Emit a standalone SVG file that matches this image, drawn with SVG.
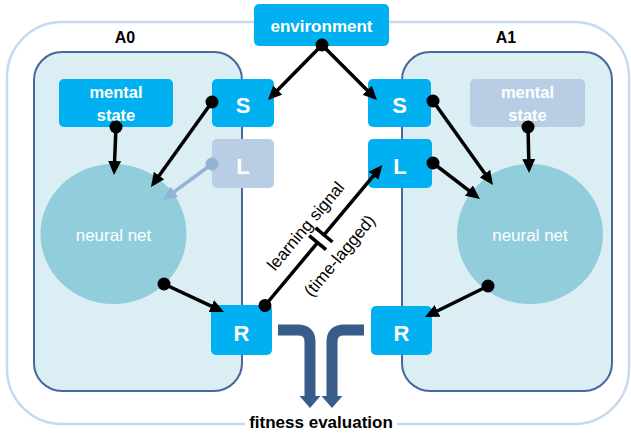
<svg xmlns="http://www.w3.org/2000/svg" width="631" height="433" viewBox="0 0 631 433">
<defs>
<style>
.agent{fill:#dbeef4;stroke:#46689a;stroke-width:2}
.box{fill:#00b0f0}
.fade{fill:#b9cde5}
.nn{fill:#92cddc}
.wt{font-family:"Liberation Sans",Arial,sans-serif;fill:#fff;text-anchor:middle}
.bt{font-family:"Liberation Sans",Arial,sans-serif;fill:#000;text-anchor:middle}
.b{font-weight:bold}
.con{stroke:#000;stroke-width:3.5;fill:none}
.conf{stroke:#95b3d7;stroke-width:3.5;fill:none}
.fit{stroke:#385d8a;stroke-width:11;fill:none}
</style>
<marker id="ah" viewBox="0 0 14 13" markerWidth="14" markerHeight="13" refX="10" refY="6.5" orient="auto" markerUnits="userSpaceOnUse"><path d="M0,0 L14,6.5 L0,13 z" fill="#000"/></marker>
<marker id="dot" viewBox="0 0 14 14" markerWidth="14" markerHeight="14" refX="7" refY="7" markerUnits="userSpaceOnUse"><circle cx="7" cy="7" r="6.5" fill="#000"/></marker>
<marker id="ahf" viewBox="0 0 14 13" markerWidth="14" markerHeight="13" refX="10" refY="6.5" orient="auto" markerUnits="userSpaceOnUse"><path d="M0,0 L14,6.5 L0,13 z" fill="#95b3d7"/></marker>
<marker id="dotf" viewBox="0 0 14 14" markerWidth="14" markerHeight="14" refX="7" refY="7" markerUnits="userSpaceOnUse"><circle cx="7" cy="7" r="6.5" fill="#95b3d7"/></marker>
</defs>
<rect width="631" height="433" fill="#fff"/>
<g id="world"><rect x="7" y="22" width="622" height="402" rx="55" fill="none" stroke="#c6d9f1" stroke-width="2.5"/></g>
<g id="agentA0">
<rect class="agent" x="34" y="52" width="208" height="339" rx="28"/>
<text class="bt b" x="125" y="43" font-size="16">A0</text>
</g>
<g id="agentA1">
<rect class="agent" x="402" y="52" width="210" height="339" rx="28"/>
<text class="bt b" x="506" y="43" font-size="16">A1</text>
</g>
<g id="nn0"><ellipse class="nn" cx="113.5" cy="234" rx="73" ry="70"/><text class="wt" x="113.5" y="241" font-size="17">neural net</text></g>
<g id="nn1"><ellipse class="nn" cx="530" cy="234" rx="73" ry="70"/><text class="wt" x="530" y="241" font-size="17">neural net</text></g>
<g id="mental0"><rect class="box" x="59" y="79" width="114" height="48" rx="5"/><text class="wt b" x="116" y="98" font-size="16.5">mental</text><text class="wt b" x="116" y="121" font-size="16.5">state</text></g>
<g id="mental1"><rect class="fade" x="470" y="79" width="115" height="48" rx="5"/><text class="wt b" x="527.5" y="98" font-size="16.5">mental</text><text class="wt b" x="527.5" y="121" font-size="16.5">state</text></g>
<g id="environment"><rect class="box" x="254" y="4" width="135" height="42" rx="5"/><text class="wt b" x="321.5" y="32" font-size="17">environment</text></g>
<g id="S0"><rect class="box" x="212" y="79" width="62" height="48" rx="5"/><text class="wt b" x="243" y="113" font-size="22">S</text></g>
<g id="L0"><rect class="fade" x="212" y="139" width="62" height="49" rx="5"/><text class="wt b" x="243" y="174" font-size="22">L</text></g>
<g id="R0"><rect class="box" x="211" y="305" width="61" height="50" rx="5"/><text class="wt b" x="241.5" y="341" font-size="22">R</text></g>
<g id="S1"><rect class="box" x="368" y="79" width="63" height="48" rx="5"/><text class="wt b" x="399.5" y="113" font-size="22">S</text></g>
<g id="L1"><rect class="box" x="368" y="139" width="64" height="49" rx="5"/><text class="wt b" x="400" y="174" font-size="22">L</text></g>
<g id="R1"><rect class="box" x="371" y="306" width="61" height="49" rx="5"/><text class="wt b" x="401.5" y="341" font-size="22">R</text></g>
<g id="connectors">
<line class="con" x1="322" y1="45" x2="270.8" y2="97.1" marker-start="url(#dot)" marker-end="url(#ah)"/>
<line class="con" x1="322" y1="45" x2="374.2" y2="97.2" marker-end="url(#ah)"/>
<line class="con" x1="116" y1="127" x2="114.2" y2="171" marker-start="url(#dot)" marker-end="url(#ah)"/>
<line class="con" x1="212" y1="102" x2="153.3" y2="183.7" marker-start="url(#dot)" marker-end="url(#ah)"/>
<line class="conf" x1="212" y1="164" x2="166.2" y2="197.6" marker-start="url(#dotf)" marker-end="url(#ahf)"/>
<line class="con" x1="164" y1="284" x2="220.4" y2="310.3" marker-start="url(#dot)" marker-end="url(#ah)"/>
<line class="con" x1="433" y1="101" x2="490.7" y2="181.7" marker-start="url(#dot)" marker-end="url(#ah)"/>
<line class="con" x1="433" y1="163" x2="476.8" y2="196.6" marker-start="url(#dot)" marker-end="url(#ah)"/>
<line class="con" x1="528" y1="127" x2="529" y2="169" marker-start="url(#dot)" marker-end="url(#ah)"/>
<line class="con" x1="488" y1="286" x2="428.6" y2="315.2" marker-start="url(#dot)" marker-end="url(#ah)"/>
<g id="learning" transform="translate(265 305.5) rotate(-50.1)">
<line class="con" x1="0" y1="0" x2="82" y2="0" marker-start="url(#dot)"/>
<line class="con" x1="92" y1="0" x2="179" y2="0" marker-end="url(#ah)"/>
<line class="con" x1="82" y1="-11" x2="82" y2="11"/>
<line class="con" x1="92" y1="-11" x2="92" y2="11"/>
<text class="bt" x="87" y="-14" font-size="17">learning signal</text>
<text class="bt" x="86" y="31" font-size="17">(time-lagged)</text>
</g>
<path class="fit" d="M278 330 H298 Q310 330 310 342 V397"/>
<polygon points="299.5,396 320.5,396 310,408" fill="#385d8a"/>
<path class="fit" d="M364 330 H344 Q332 330 332 342 V397"/>
<polygon points="321.5,396 342.5,396 332,408" fill="#385d8a"/>
</g>
<g id="fitness">
<rect x="245" y="412" width="152" height="21" fill="#fff"/>
<text class="bt b" x="321" y="428" font-size="17">fitness evaluation</text>
</g>
</svg>
